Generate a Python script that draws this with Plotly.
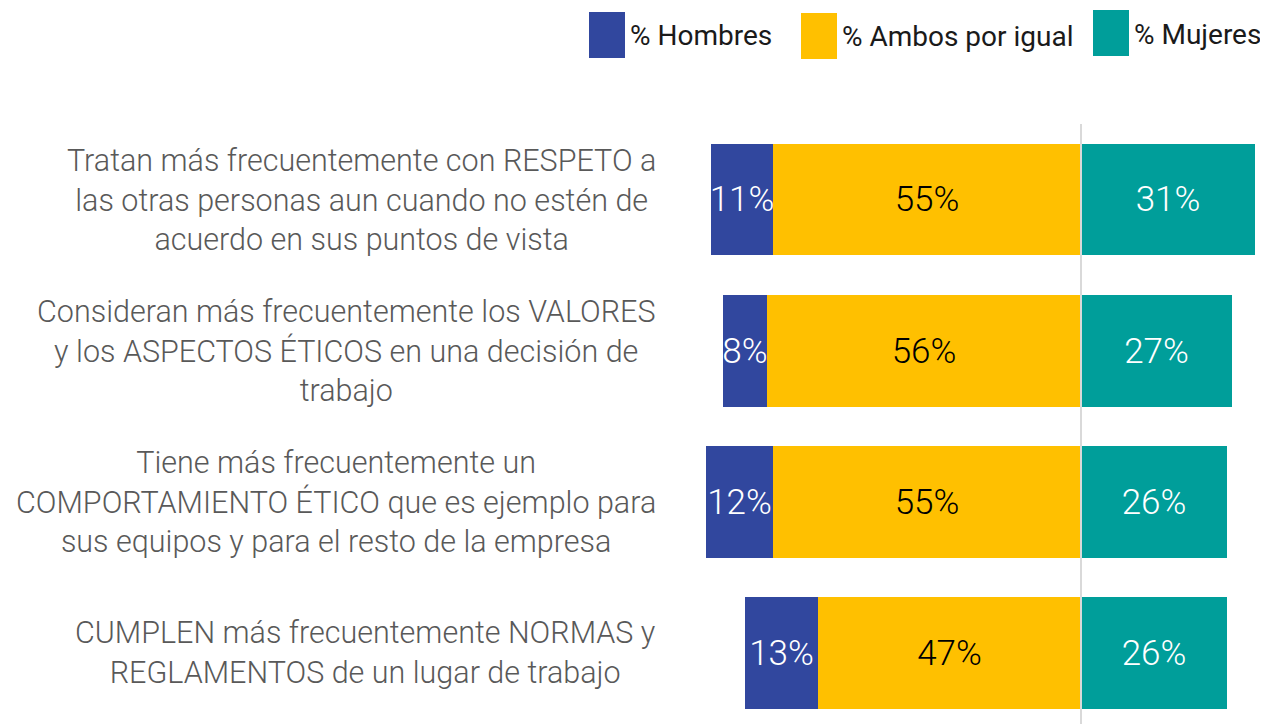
import plotly.graph_objects as go

categories = [
    "Tratan más frecuentemente con RESPETO a<br>las otras personas aun cuando no estén de<br>acuerdo en sus puntos de vista",
    "Consideran más frecuentemente los VALORES<br>y los ASPECTOS ÉTICOS en una decisión de<br>trabajo",
    "Tiene más frecuentemente un<br>COMPORTAMIENTO ÉTICO que es ejemplo para<br>sus equipos y para el resto de la empresa",
    "CUMPLEN más frecuentemente NORMAS y<br>REGLAMENTOS de un lugar de trabajo",
]
hombres = [11, 8, 12, 13]
ambos = [55, 56, 55, 47]
mujeres = [31, 27, 26, 26]

series_names = ["% Hombres", "% Ambos por igual", "% Mujeres"]
colors = ["#31479E", "#FFC000", "#009E9A"]
text_colors = ["white", "black", "white"]

OFF = 8  # page body margin
W, H = 1268 - OFF, 724 - OFF
# plot area in window pixels
PL, PR, PT, PB = 690, 1268, 124, 724
L, R, T, B = PL - OFF, (1268 - OFF) - (PR - OFF), PT - OFF, 0
PW, PH = PR - PL, (H - B) - T

def px2x(px):
    return (px - PL) / PW

def py2y(py):
    return ((PT + PH) - py) / PH

ypos = list(range(len(categories)))
FONT = "Roboto"
SCALE = 5.6
ZERO = 1081

fig = go.Figure()
for name, vals, sign, col, tcol in [
    (series_names[1], ambos, -1, colors[1], text_colors[1]),
    (series_names[0], hombres, -1, colors[0], text_colors[0]),
    (series_names[2], mujeres, 1, colors[2], text_colors[2]),
]:
    fig.add_trace(go.Bar(
        y=ypos, x=[sign * v for v in vals], orientation="h", name=name,
        marker=dict(color=col, line=dict(width=0)), width=0.74,
        text=[f"{v}%" for v in vals], textposition="inside",
        insidetextanchor="middle", textangle=0, constraintext="none",
        textfont=dict(color=tcol, size=35, family=FONT, weight=300),
        showlegend=False, hoverinfo="skip",
    ))

for i, cat in enumerate(categories):
    fig.add_annotation(
        x=px2x(658), xref="paper", y=i, yref="y", text=cat, showarrow=False,
        xanchor="right", align="center", yanchor="middle",
        font=dict(size=30.5, color="#595959", family=FONT, weight=300),
    )

legend_items = [(589, 625, 12, 58), (801, 837, 13, 59), (1093, 1129, 10, 56)]
for (x0, x1, y0, y1), name, col in zip(legend_items, series_names, colors):
    fig.add_shape(type="rect", xref="paper", yref="paper",
                  x0=px2x(x0), x1=px2x(x1), y0=py2y(y1), y1=py2y(y0),
                  fillcolor=col, line=dict(width=0))
    fig.add_annotation(x=px2x(x1 + 3), xref="paper", y=py2y((y0 + y1) / 2 + 1), yref="paper",
                       text=name, showarrow=False, xanchor="left", yanchor="middle",
                       font=dict(size=28, color="#1a1a1a", family=FONT))

fig.add_shape(type="line", xref="x", yref="paper", x0=0, x1=0, y0=0, y1=1.0,
              line=dict(color="#D9D9D9", width=2), layer="above")

fig.update_layout(
    width=W, height=H, margin=dict(l=L, r=R, t=T, b=B, autoexpand=False),
    barmode="relative", bargap=0,
    plot_bgcolor="white", paper_bgcolor="white",
    xaxis=dict(range=[-(ZERO - PL) / SCALE, (PR - ZERO) / SCALE], visible=False, fixedrange=True),
    yaxis=dict(range=[3.47, -0.5], visible=False, fixedrange=True),
    font=dict(family=FONT),
)

fig.write_html("out.html")
